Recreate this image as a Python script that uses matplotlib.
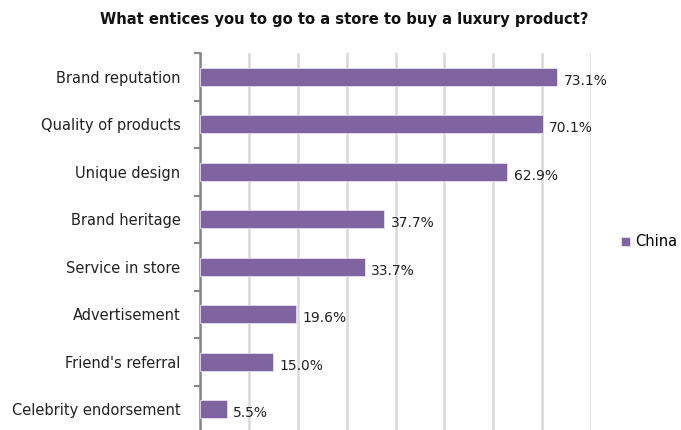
import matplotlib.pyplot as plt
import numpy as np

categories = ['Brand reputation', 'Quality of products', 'Unique design', 'Brand heritage',
              'Service in store', 'Advertisement', "Friend's referral", 'Celebrity endorsement']
china = [73.1, 70.1, 62.9, 37.7, 33.7, 19.6, 15.0, 5.5]

purple = '#8064A2'
plt.rcParams['font.family'] = ['DejaVu Sans']

fig = plt.figure(figsize=(6.81, 4.30), dpi=100)
ax = fig.add_axes([200 / 681, -3 / 430, 391 / 681, 380 / 430])

y = np.arange(len(categories))
ax.barh(y, china, height=0.38, color=purple, edgecolor='#e6dff0', linewidth=0.6,
        label='China', zorder=3)
for yi, v in zip(y, china):
    ax.text(v + 1.3, yi + 0.08, f'{v:.1f}%', va='center', ha='left', fontsize=10,
            color='#222222')

ax.set_xlim(0, 80)
ax.set_ylim(len(categories) - 0.5, -0.5)
ax.set_xticks(np.arange(0, 81, 10))
ax.set_xticklabels([])
ax.tick_params(axis='x', length=0)
ax.grid(axis='x', color='#d9d9d9', linewidth=1.8, zorder=0)

ax.set_yticks(y)
ax.set_yticklabels(categories, fontsize=10.5, color='#222222')
ax.set_yticks(np.arange(-0.5, len(categories), 1), minor=True)
ax.tick_params(axis='y', which='major', length=0, pad=14)
ax.tick_params(axis='y', which='minor', length=4, width=1.5, color='#868686')

for s in ['top', 'right', 'bottom']:
    ax.spines[s].set_visible(False)
ax.spines['left'].set_color('#868686')
ax.spines['left'].set_linewidth(1.8)

fig.text(0.505, 0.955, 'What entices you to go to a store to buy a luxury product?',
         ha='center', va='center', fontsize=10.6, fontweight='bold', color='#111111')

fig.legend(loc='center left', bbox_to_anchor=(621 / 681, 1 - 242 / 430), frameon=False,
           fontsize=10.5, handlelength=0.6, handleheight=0.6, handletextpad=0.35,
           borderaxespad=0, borderpad=0)

fig.savefig('out.png', dpi=100)
